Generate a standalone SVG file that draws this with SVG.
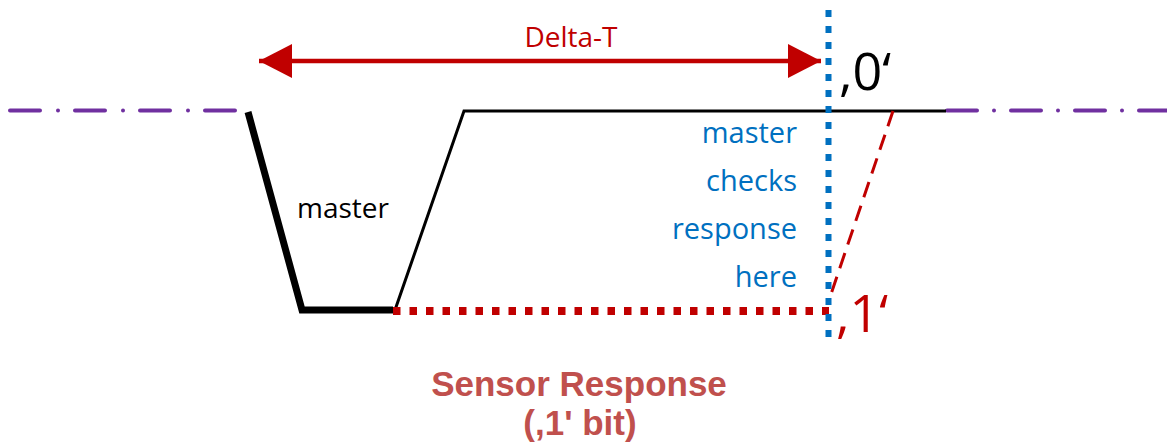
<svg xmlns="http://www.w3.org/2000/svg" width="1167" height="447" viewBox="0 0 1167 447">
  <defs>
    <style>
      .sans { font-family: "Open Sans", "Liberation Sans", sans-serif; }
      .blue { fill: #0070c0; font-size: 29px; text-anchor: end; }
      .bus { stroke: #7030a0; stroke-width: 4; stroke-linecap: round; fill: none; }
      .red { fill: #c00000; }
      .cap { font-family: "Liberation Sans", Arial, sans-serif; font-weight: bold; font-size: 35px; fill: #c0504d; text-anchor: middle; }
    </style>
    <marker id="ah" viewBox="0 0 33 34" refX="33" refY="17" markerWidth="33" markerHeight="34" markerUnits="userSpaceOnUse" orient="auto-start-reverse">
      <path d="M0,0 L33,17 L0,34 Z" fill="#c00000"/>
    </marker>
  </defs>
  <rect width="1167" height="447" fill="#ffffff"/>

  <g id="bus-idle">
    <line class="bus" x1="10" y1="110.5" x2="236" y2="110.5" stroke-dasharray="30 18 0 17"/>
    <line class="bus" x1="947" y1="110.5" x2="1170" y2="110.5" stroke-dasharray="30 17 0 17"/>
  </g>

  <g id="master-pulse">
    <path d="M248,112 L302,310 L393,310" fill="none" stroke="#000" stroke-width="7" stroke-linejoin="miter"/>
    <path d="M395,310 L464,111 L946,111" fill="none" stroke="#000" stroke-width="3"/>
    <text class="sans" x="297" y="218" font-size="28" fill="#000">master</text>
  </g>

  <g id="connectors">
    <line x1="259" y1="61" x2="821" y2="61" stroke="#c00000" stroke-width="4.5" marker-start="url(#ah)" marker-end="url(#ah)"/>
    <line x1="393" y1="311" x2="829" y2="311" stroke="#c00000" stroke-width="8" stroke-dasharray="7.5 9"/>
    <line x1="893" y1="111" x2="829" y2="300" stroke="#c00000" stroke-width="3" stroke-dasharray="16 9"/>
    <line x1="828.5" y1="10" x2="828.5" y2="340" stroke="#0070c0" stroke-width="6" stroke-dasharray="7 9"/>
  </g>

  <g id="delta-t">
    <text class="sans red" x="571" y="47" font-size="28" text-anchor="middle">Delta-T</text>
  </g>

  <g id="bit-zero">
    <text class="sans" x="839" y="90" font-size="52" fill="#000">,0‘</text>
  </g>

  <g id="bit-one">
    <text class="sans red" x="836" y="332" font-size="52">,1‘</text>
  </g>

  <g id="check-note">
    <text class="sans blue" x="797" y="143">master</text>
    <text class="sans blue" x="797" y="191">checks</text>
    <text class="sans blue" x="797" y="239">response</text>
    <text class="sans blue" x="797" y="287">here</text>
  </g>

  <g id="caption">
    <text class="cap" x="579" y="396">Sensor Response</text>
    <text class="cap" x="580" y="435">(,1' bit)</text>
  </g>
</svg>
